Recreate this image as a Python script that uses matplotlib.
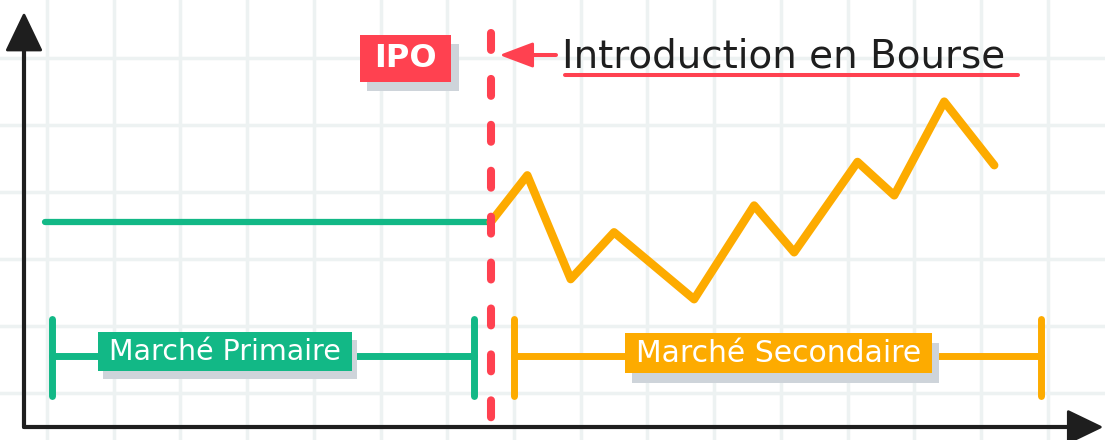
import matplotlib
matplotlib.use("Agg")
import matplotlib.pyplot as plt
from matplotlib.patches import Rectangle, Polygon

# cours de l'action (unites = cases de la grille)
temps = [6.65, 7.2, 7.85, 8.5, 9.7, 10.6, 11.2, 12.15, 12.7, 13.45, 14.2]
cours = [2.55, 3.25, 1.7, 2.4, 1.4, 2.8, 2.1, 3.45, 2.95, 4.35, 3.4]
# prix fixe avant l'introduction
temps_primaire = [-0.03, 6.65]
cours_primaire = [2.55, 2.55]
date_ipo = 6.65

titre = "Introduction en Bourse"
label_ipo = "IPO"
label_primaire = "Marché Primaire"
label_secondaire = "Marché Secondaire"

VERT = "#12b886"
ORANGE = "#fdab00"
ROUGE = "#ff4150"
GRIS = "#ced4da"
GRILLE = "#edf2f2"
NOIR = "#1e1e1e"

fig = plt.figure(figsize=(11.05, 4.40), dpi=100)
ax = fig.add_axes([0, 0, 1, 1])
ax.set_xlim(-0.705, 15.86)
ax.set_ylim(-0.70, 5.866)
ax.axis("off")

# grille
for k in range(16):
    ax.axvline(k, color=GRILLE, lw=2.5, zorder=0)
for j in range(6):
    ax.axhline(j, color=GRILLE, lw=2.5, zorder=0)

# axes avec fleches
x_axe, y_axe = -0.345, -0.507
ax.plot([x_axe, x_axe], [y_axe, 5.2], color=NOIR, lw=3, solid_capstyle="round", zorder=6)
ax.add_patch(Polygon([(x_axe - 0.25, 5.12), (x_axe + 0.25, 5.12), (x_axe, 5.64)],
                     closed=True, color=NOIR, lw=2, joinstyle="round", zorder=6))
ax.plot([x_axe, 15.4], [y_axe, y_axe], color=NOIR, lw=3, solid_capstyle="round", zorder=6)
ax.add_patch(Polygon([(15.31, y_axe + 0.23), (15.31, y_axe - 0.23), (15.79, y_axe)],
                     closed=True, color=NOIR, lw=2, joinstyle="round", zorder=6))

# courbes
ax.plot(temps_primaire, cours_primaire, color=VERT, lw=4.5, solid_capstyle="round", zorder=3)
ax.plot(temps, cours, color=ORANGE, lw=6, solid_capstyle="round",
        solid_joinstyle="round", zorder=3)

# ligne de l'IPO
ax.plot([date_ipo, date_ipo], [5.37, -0.8], color=ROUGE, lw=5.8,
        dashes=(2.1, 3.6), dash_capstyle="round", zorder=7)

# fleche rouge + titre
ax.plot([7.63, 7.2], [5.045, 5.045], color=ROUGE, lw=2.9, solid_capstyle="round", zorder=7)
ax.add_patch(Polygon([(7.28, 5.21), (7.28, 4.88), (6.84, 5.045)],
                     closed=True, color=ROUGE, lw=2, joinstyle="round", zorder=7))
ax.text(7.72, 5.03, titre, color=NOIR, fontsize=28, ha="left", va="center", zorder=7)
ax.plot([7.77, 14.56], [4.746, 4.746], color=ROUGE, lw=2.9, solid_capstyle="round", zorder=7)


def etiquette(x0, x1, y0, y1, couleur, texte, taille, dx, dy, gras=False):
    ax.add_patch(Rectangle((x0 + dx, y0 - dy), x1 - x0, y1 - y0, color=GRIS, lw=0, zorder=4))
    ax.add_patch(Rectangle((x0, y0), x1 - x0, y1 - y0, color=couleur, lw=0, zorder=5))
    ax.text((x0 + x1) / 2, (y0 + y1) / 2, texte, color="white", fontsize=taille,
            fontweight="bold" if gras else "medium", ha="center", va="center", zorder=6)


def accolade(x0, x1, couleur):
    ax.plot([x0, x1], [0.55, 0.55], color=couleur, lw=5, solid_capstyle="round", zorder=3)
    for x in (x0, x1):
        ax.plot([x, x], [-0.05, 1.1], color=couleur, lw=5, solid_capstyle="round", zorder=3)


etiquette(4.69, 6.06, 4.64, 5.34, ROUGE, label_ipo, 23, 0.11, 0.13, gras=True)

accolade(0.075, 6.40, VERT)
etiquette(0.757, 4.57, 0.328, 0.91, VERT, label_primaire, 20.5, 0.08, 0.12)

accolade(7.0, 14.9, ORANGE)
etiquette(8.67, 13.27, 0.30, 0.896, ORANGE, label_secondaire, 21.5, 0.1, 0.15)

fig.savefig("out.png", dpi=100)
